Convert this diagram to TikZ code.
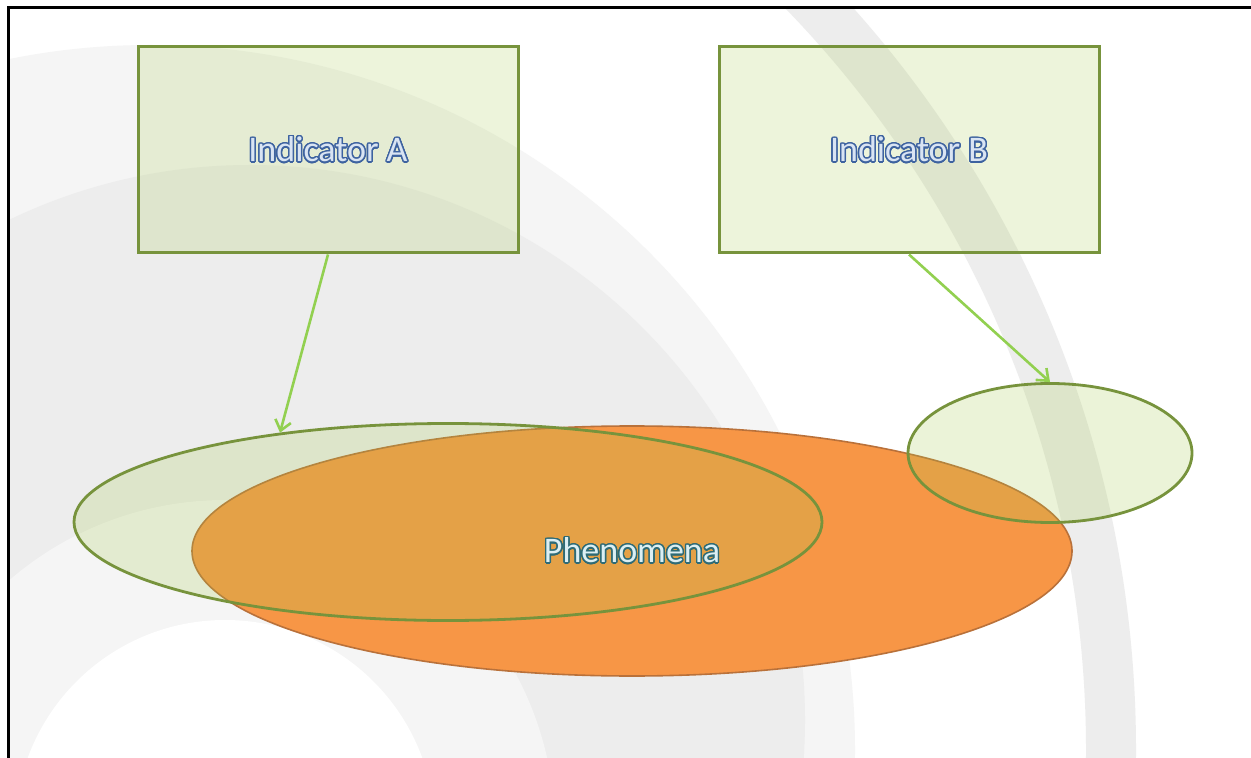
\documentclass[tikz,border=0pt]{standalone}
\usepackage{fontspec}
\setmainfont{Carlito}
\usepackage{contour}
\contourlength{0.7pt}
\contournumber{24}
\usetikzlibrary{arrows.meta,shapes.geometric}

\definecolor{olivefill}{HTML}{A5C94E}
\definecolor{oliveline}{HTML}{77933C}
\definecolor{arrowgreen}{HTML}{92D050}
\definecolor{phenfill}{HTML}{F79646}
\definecolor{phenline}{HTML}{B9713A}
\definecolor{indfill}{HTML}{D9E4F3}
\definecolor{indline}{HTML}{3E63A0}
\definecolor{phtfill}{HTML}{DCEFF3}
\definecolor{phtline}{HTML}{2E6B76}

\begin{document}
\begin{tikzpicture}[x=0.5pt,y=-0.5pt,
  indbox/.style={draw=oliveline, line width=1.5pt, fill=olivefill, fill opacity=0.2,
    text opacity=1, minimum width=190pt, minimum height=103pt, inner sep=0pt,
    text=indfill, font=\fontsize{18}{20}\selectfont},
  greenell/.style={ellipse, draw=oliveline, line width=1.4pt, fill=olivefill,
    fill opacity=0.22, draw opacity=1, inner sep=0pt},
  phenell/.style={ellipse, draw=phenline, line width=0.8pt, fill=phenfill, inner sep=0pt},
  link/.style={draw=arrowgreen, line width=1.3pt, -{Straight Barb[length=5pt,width=8pt]}}
]
\useasboundingbox (0,0) rectangle (1251,758);
\fill[white] (0,0) rectangle (1251,758);

% background
\begin{scope}
\clip (8,8) rectangle (1251,758);
\fill[black!4] (150,750) circle[radius=705];
\fill[black!7] (250,720) circle[radius=555];
\fill[black!4] (225,830) circle[radius=330];
\fill[white] (225,830) circle[radius=210];
\draw[black!7, line width=25pt] (21,750) circle[radius=1090];
\end{scope}
\draw[black, line width=1.5pt] (8,758) -- (8,8) -- (1251,8);

% indicators
\node[indbox] (boxA) at (328,150) {\contour{indline}{Indicator A}};
\node[indbox] (boxB) at (909,150) {\contour{indline}{Indicator B}};

% phenomena and the parts covered
\node[phenell, minimum width=440pt, minimum height=125pt] (phen) at (632,551) {};
\node[greenell, minimum width=374pt, minimum height=98.5pt] (ellA) at (448,522) {};
\node[greenell, minimum width=142pt, minimum height=69.5pt] (ellB) at (1050,453) {};
\node[text=phtfill, font=\fontsize{18}{20}\selectfont] (phenlabel) at (phen.center)
  {\contour{phtline}{Phenomena}};

\draw[link] (boxA.south) -- (ellA.152);
\draw[link] (boxB.south) -- (ellB.north);
\end{tikzpicture}
\end{document}
